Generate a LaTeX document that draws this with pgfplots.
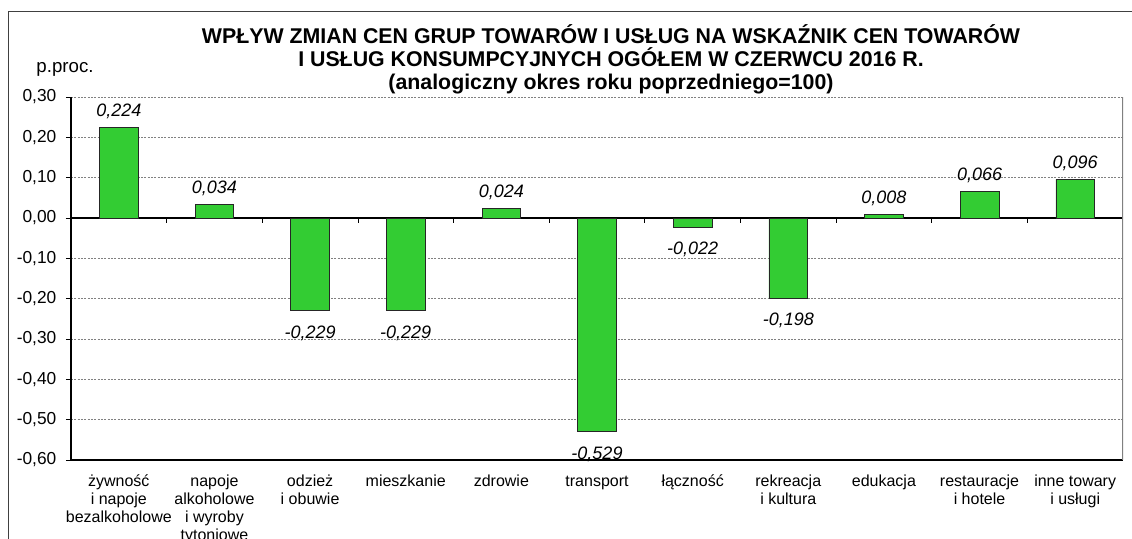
\documentclass[border=0pt]{standalone}
\usepackage{pgfplots}
\pgfplotsset{compat=1.18}
\usepackage{fontspec}
\setmainfont{Liberation Sans}
\definecolor{barg}{RGB}{51,204,51}
\begin{document}
\begin{tikzpicture}
\useasboundingbox (0,0) rectangle (849pt,404.25pt);
\draw[black!75, line width=0.7pt] (6pt,-5pt) -- (6pt,396pt) -- (860pt,396pt);
\node[font=\fontsize{16}{17.25}\selectfont\bfseries, align=center] at (458.25pt,359.7pt) {WPŁYW ZMIAN CEN GRUP TOWARÓW I USŁUG NA WSKAŹNIK CEN TOWARÓW\\I USŁUG KONSUMPCYJNYCH OGÓŁEM W CZERWCU 2016 R.\\(analogiczny okres roku poprzedniego=100)};
\node[font=\fontsize{14}{15}\selectfont] at (48.75pt,352.5pt) {p.proc.};
\begin{axis}[
 at={(53.25pt,59.25pt)}, anchor=south west, scale only axis,
 width=789pt, height=272.25pt,
 xmin=-0.5, xmax=10.5, ymin=-0.6, ymax=0.3,
 ybar, bar width=29pt,
 axis x line*=bottom, axis y line*=left,
 axis line style={black, line width=0.8pt},
 ytick={-0.6,-0.5,-0.4,-0.3,-0.2,-0.1,0,0.1,0.2,0.3},
 yticklabel={\pgfmathprintnumber[fixed,fixed zerofill,precision=2,use comma,assume math mode=true]{\tick}},
 yticklabel style={font=\fontsize{13}{15}\selectfont, xshift=-3.75pt},
 xtick={0,1,2,3,4,5,6,7,8,9,10},
 xticklabels={{\vphantom{ł}żywność\\i napoje\\bezalkoholowe},{\vphantom{ł}napoje\\alkoholowe\\i wyroby\\tytoniowe},{\vphantom{ł}odzież\\i obuwie},{\vphantom{ł}mieszkanie},{\vphantom{ł}zdrowie},{\vphantom{ł}transport},{\vphantom{ł}łączność},{\vphantom{ł}rekreacja\\i kultura},{\vphantom{ł}edukacja},{\vphantom{ł}restauracje\\i hotele},{\vphantom{ł}inne towary\\i usługi}},
 xticklabel style={align=center, font=\fontsize{12}{13.5}\selectfont, yshift=-4pt},
 x tick style={draw=none},
 y tick style={black, line width=0.6pt},
 tick align=outside, major tick length=3.75pt,
 ymajorgrids, grid style={gray, dash pattern=on 1.5pt off 1pt, line width=0.5pt},
 extra y ticks={0}, extra y tick labels={},
 extra y tick style={grid style={black, solid, line width=0.8pt}},
]
\addplot[fill=barg, draw=black!85, line width=0.5pt,
  nodes near coords={\pgfmathprintnumber[fixed,fixed zerofill,precision=3,use comma,assume math mode=true]{\pgfplotspointmeta}},
  visualization depends on={rawy \as \rawy},
  nodes near coords style={font=\fontsize{13.5}{15}\selectfont\itshape, black, yshift={ifthenelse(\rawy<0,-8,3)}}]
 coordinates {(0,0.224) (1,0.034) (2,-0.229) (3,-0.229) (4,0.024) (5,-0.529) (6,-0.022) (7,-0.198) (8,0.008) (9,0.066) (10,0.096)};
\pgfplotsinvokeforeach{0.5,1.5,2.5,3.5,4.5,5.5,6.5,7.5,8.5,9.5}{
  \draw[black, line width=0.6pt] (axis cs:#1,0) -- ++(0pt,-3.75pt);
}
\draw[gray, line width=0.8pt] (rel axis cs:1,0) -- (rel axis cs:1,1);
\end{axis}
\end{tikzpicture}
\end{document}
